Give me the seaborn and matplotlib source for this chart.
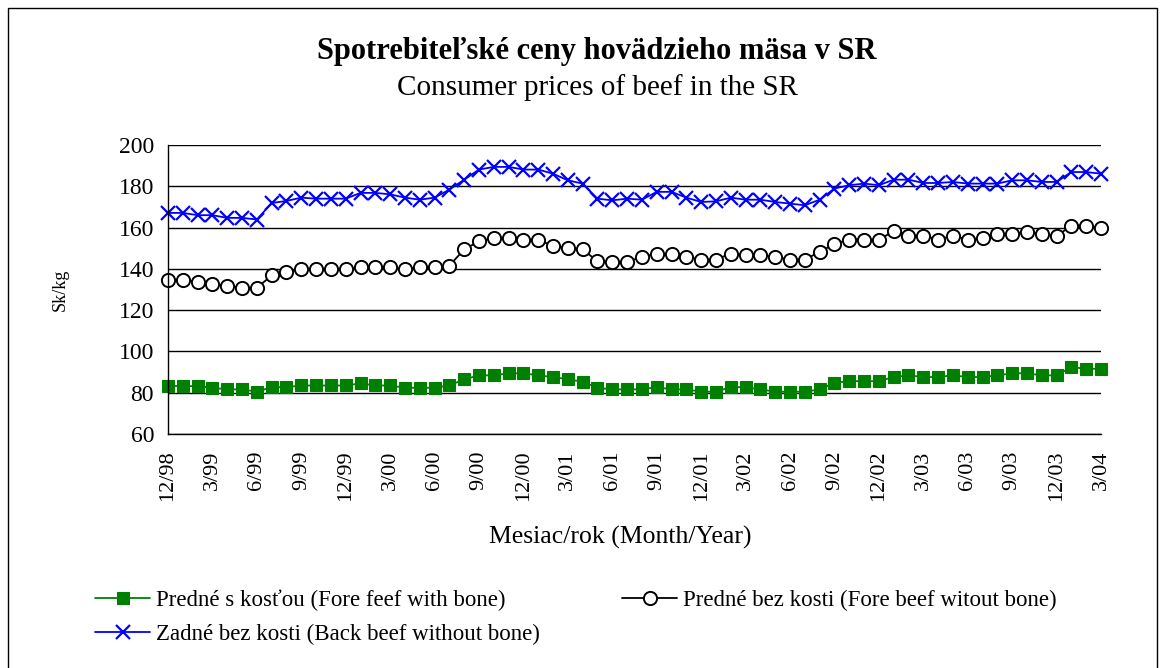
"""
Consumer prices of beef in the Slovak Republic, 12/1998 - 3/2004.
"""

import numpy as np
import pandas as pd
import matplotlib
matplotlib.use("Agg")
import matplotlib.pyplot as plt
from matplotlib.patches import Rectangle
import seaborn as sns

# monthly series, 12/98 .. 3/04 (64 months), Sk/kg
fore_with_bone = [83.2, 83.2, 83.2, 82.4, 81.6, 81.6, 80.5, 82.7, 82.7, 83.5,
                  83.5, 83.5, 83.5, 84.5, 83.5, 83.5, 82.4, 82.4, 82.4, 83.5,
                  86.5, 88.4, 88.4, 89.4, 89.4, 88.4, 87.6, 86.5, 85.3, 82.4,
                  81.6, 81.6, 81.6, 82.7, 81.6, 81.6, 80.5, 80.5, 82.7, 82.7,
                  81.6, 80.5, 80.5, 80.5, 81.6, 84.8, 85.6, 85.6, 85.6, 87.6,
                  88.4, 87.6, 87.6, 88.4, 87.6, 87.6, 88.4, 89.4, 89.4, 88.4,
                  88.4, 92.4, 91.6, 91.6]
fore_without_bone = [134.8, 134.8, 133.7, 132.7, 131.9, 130.8, 130.8, 136.8, 138.5, 139.7,
                     139.7, 139.7, 139.7, 140.8, 140.8, 140.8, 139.7, 140.8, 140.8, 141.6,
                     149.4, 153.4, 155.0, 155.0, 154.2, 154.2, 151.0, 150.2, 149.4, 143.7,
                     143.4, 143.4, 145.8, 147.4, 147.4, 145.8, 144.5, 144.5, 147.4, 146.5,
                     146.5, 145.8, 144.5, 144.5, 148.2, 152.1, 154.2, 154.2, 154.2, 158.2,
                     156.1, 156.1, 154.2, 156.1, 154.2, 155.0, 157.0, 157.0, 157.9, 157.0,
                     155.8, 161.0, 161.0, 159.8]
back_without_bone = [167.1, 167.1, 166.0, 166.0, 164.7, 164.7, 163.9, 171.9, 172.9, 174.5,
                     174.0, 174.0, 174.0, 176.8, 176.8, 176.1, 174.5, 173.5, 174.5, 178.4,
                     183.2, 188.1, 189.4, 189.4, 188.1, 188.1, 186.1, 182.9, 181.3, 174.0,
                     173.2, 174.0, 173.5, 177.3, 177.3, 174.5, 172.4, 172.7, 174.5, 173.5,
                     173.5, 172.4, 171.6, 170.8, 173.5, 178.9, 180.5, 181.3, 180.5, 183.2,
                     183.2, 181.6, 181.6, 182.1, 181.3, 181.3, 181.3, 182.9, 182.9, 182.1,
                     182.1, 186.9, 186.9, 186.1]

tick_labels = ["12/98", "3/99", "6/99", "9/99", "12/99", "3/00", "6/00", "9/00",
               "12/00", "3/01", "6/01", "9/01", "12/01", "3/02", "6/02", "9/02",
               "12/02", "3/03", "6/03", "9/03", "12/03", "3/04"]

labels = ["Predné s kosťou (Fore feef with bone)",
          "Predné bez kosti (Fore beef witout bone)",
          "Zadné bez kosti (Back beef without bone)"]

month = np.arange(len(fore_with_bone))
df = pd.DataFrame({"month": month,
                   "fwb": fore_with_bone,
                   "fwob": fore_without_bone,
                   "bwob": back_without_bone})

sns.set_style("white")
plt.rcParams["font.family"] = ["Liberation Serif", "DejaVu Serif"]
plt.rcParams["text.color"] = "black"
plt.rcParams["axes.labelcolor"] = "black"
plt.rcParams["xtick.color"] = "black"
plt.rcParams["ytick.color"] = "black"

fig = plt.figure(figsize=(11.66, 6.68), dpi=100)
ax = fig.add_axes([168 / 1166, 1 - 434 / 668, (1101 - 168) / 1166, (434 - 145) / 668])

sns.lineplot(data=df, x="month", y="fwb", ax=ax, color="green", lw=1.3,
             marker="s", markersize=8.5, markeredgecolor="green",
             markeredgewidth=0.8, label=labels[0], clip_on=False)
sns.lineplot(data=df, x="month", y="fwob", ax=ax, color="black", lw=1.3,
             marker="o", markersize=9.5, markerfacecolor="white",
             markeredgecolor="black", markeredgewidth=1.4, label=labels[1],
             clip_on=False)
sns.lineplot(data=df, x="month", y="bwob", ax=ax, color="blue", lw=1.3,
             marker="x", markersize=10.5, markeredgecolor="blue",
             markeredgewidth=1.6, label=labels[2], clip_on=False)

ax.set_xlim(0, month[-1])
ax.set_ylim(60, 200)
ax.set_yticks(range(60, 201, 20))
ax.yaxis.grid(True, color="black", lw=1)
ax.set_axisbelow(True)

ax.set_xticks(month)
ax.set_xticklabels([tick_labels[i // 3] if i % 3 == 0 else "" for i in month],
                   rotation=90, fontsize=16)
ax.tick_params(axis="x", direction="inout", length=10, width=1, pad=7)
ax.tick_params(axis="y", direction="out", length=5, width=1, labelsize=17, pad=5)

for s in ["top", "right"]:
    ax.spines[s].set_visible(False)
for s in ["left", "bottom"]:
    ax.spines[s].set_color("black")
    ax.spines[s].set_linewidth(1)

ax.set_xlabel("Mesiac/rok (Month/Year)", fontsize=18.5, labelpad=18)
ax.xaxis.label.set_x((620 - 168) / 933)
ax.set_ylabel("Sk/kg", fontsize=13, labelpad=36)

fig.text(0.512, 1 - 51 / 668, "Spotrebiteľské ceny hovädzieho mäsa v SR",
         ha="center", va="center", fontsize=22, fontweight="bold")
fig.text(0.512, 1 - 88 / 668, "Consumer prices of beef in the SR",
         ha="center", va="center", fontsize=21)

handles, _ = ax.get_legend_handles_labels()
ax.get_legend().remove()
fig.legend([handles[0], handles[2], handles[1]], [labels[0], labels[2], labels[1]],
           loc="upper left", bbox_to_anchor=(95 / 1166, 1 - 590 / 668),
           ncol=2, frameon=False, fontsize=16.5, handlelength=2.4,
           handletextpad=0.25, columnspacing=3.6, labelspacing=0.55,
           borderpad=0, borderaxespad=0)

fig.patches.append(Rectangle((8 / 1166, -0.05), 1149 / 1166, 1.05 - 8 / 668,
                             transform=fig.transFigure, fill=False,
                             edgecolor="black", lw=1))

fig.savefig("out.png", dpi=100)
